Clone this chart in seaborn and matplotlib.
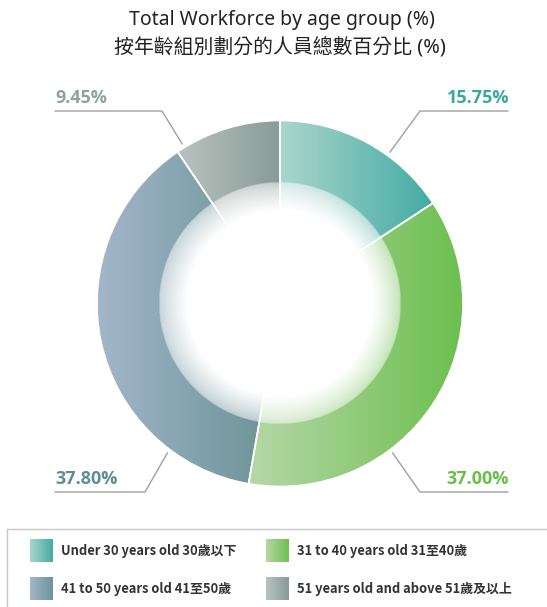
import numpy as np
import matplotlib
matplotlib.use("Agg")
import matplotlib.pyplot as plt
from matplotlib.patches import Rectangle
import seaborn as sns

# data
values = [15.75, 37.00, 37.80, 9.45]
pct_labels = ["15.75%", "37.00%", "37.80%", "9.45%"]
legend_labels = ["Under 30 years old 30歲以下", "31 to 40 years old 31至40歲",
                 "41 to 50 years old 41至50歲", "51 years old and above 51歲及以上"]
grad_light = ["#aad6cc", "#b6d7a8", "#a3b6ca", "#bac2be"]
grad_dark = ["#44aba4", "#6cbf4e", "#6d9598", "#889b97"]
label_colors = ["#3aa99f", "#6abf4b", "#5f8d91", "#90a29d"]
title_en = "Total Workforce by age group (%)"
title_zh = "按年齡組別劃分的人員總數百分比 (%)"

sns.set_theme(style="white")
plt.rcParams['font.family'] = ['Noto Sans', 'Noto Sans CJK TC', 'DejaVu Sans']

W, H = 547, 607
def py(y):
    return H - y

fig = plt.figure(figsize=(W / 100, H / 100), dpi=100)
ax = fig.add_axes([0, 0, 1, 1])

cx, cy = 280, py(303.5)
R, r_in, r_fade = 183, 93, 121

wedges, _ = ax.pie(values, startangle=90, counterclock=False, radius=R,
                   center=(cx, cy), frame=True,
                   wedgeprops=dict(width=R - r_in, edgecolor='white', linewidth=1.2))

# horizontal gradient inside each wedge
for w, lo, hi in zip(wedges, grad_light, grad_dark):
    cmap = sns.blend_palette([lo, hi], as_cmap=True)
    th = np.radians(np.linspace(w.theta1, w.theta2, 300))
    xs = np.concatenate([cx + R * np.cos(th), cx + r_in * np.cos(th)])
    ys = np.concatenate([cy + R * np.sin(th), cy + r_in * np.sin(th)])
    im = ax.imshow(np.linspace(0, 1, 256)[None, :], cmap=cmap, aspect='auto',
                   extent=(xs.min(), xs.max(), ys.min(), ys.max()),
                   interpolation='bilinear', zorder=1)
    im.set_clip_path(w)
    w.set_facecolor('none')
    w.set_zorder(3)

# white glow in the hole
n = 500
g = np.linspace(-r_fade, r_fade, n)
gx, gy = np.meshgrid(g, g)
rr = np.hypot(gx, gy)
t = np.clip((r_fade - rr) / (r_fade - r_in), 0, 1)
alpha = np.where(rr > r_fade, 0, 0.5 + 0.5 * t ** 0.8)
glow = np.ones((n, n, 4))
glow[..., 3] = alpha
ax.imshow(glow, extent=(cx - r_fade, cx + r_fade, cy - r_fade, cy + r_fade),
          aspect='auto', interpolation='bilinear', zorder=2)

# leader lines and percent labels
# (angle on ring, elbow x, elbow y, end x)
leaders = [(54, 420, 111, 508), (-53, 420, 492, 508),
           (233, 145, 492, 55), (121.5, 162, 111, 55)]
for (ang, ex, ey, endx), lab, col in zip(leaders, pct_labels, label_colors):
    a = np.radians(ang)
    sx, sy = cx + 187 * np.cos(a), cy + 187 * np.sin(a)
    ax.plot([sx, ex, endx], [sy, py(ey), py(ey)], color='#a0a0a0', lw=1.0, zorder=4)
    if endx > ex:
        ax.text(endx + 1, py(ey - 4), lab, ha='right', va='bottom', color=col,
                fontsize=13, fontweight='bold', family=['Open Sans', 'DejaVu Sans'])
    else:
        ax.text(endx, py(ey - 4), lab, ha='left', va='bottom', color=col,
                fontsize=13, fontweight='bold', family=['Open Sans', 'DejaVu Sans'])

# title
ax.text(282, py(20), title_en, ha='center', va='center', fontsize=14, color='#222222')
ax.text(280, py(47), title_zh, ha='center', va='center', fontsize=14.3, color='#222222')

# legend box
ax.add_patch(Rectangle((7, py(640)), 600, 111, facecolor='none',
                       edgecolor='#c8c8c8', lw=1.0, zorder=1))
sq_x = [30, 266]
sq_y = [539, 577]
for i, (lab, lo, hi) in enumerate(zip(legend_labels, grad_light, grad_dark)):
    x0 = sq_x[i % 2]
    y0 = sq_y[i // 2]
    cmap = sns.blend_palette([lo, hi], as_cmap=True)
    ax.imshow(np.linspace(0, 1, 64)[None, :], cmap=cmap, aspect='auto',
              extent=(x0, x0 + 23, py(y0 + 23), py(y0)), zorder=2)
    ax.text(x0 + 31, py(y0 + 12), lab, ha='left', va='center', fontsize=9.3,
            fontweight='bold', color='#333333',
            family=['Liberation Sans Narrow', 'Noto Sans CJK TC'])

ax.set_xlim(0, W)
ax.set_ylim(0, H)
ax.axis('off')
fig.savefig('out.png', dpi=100)
